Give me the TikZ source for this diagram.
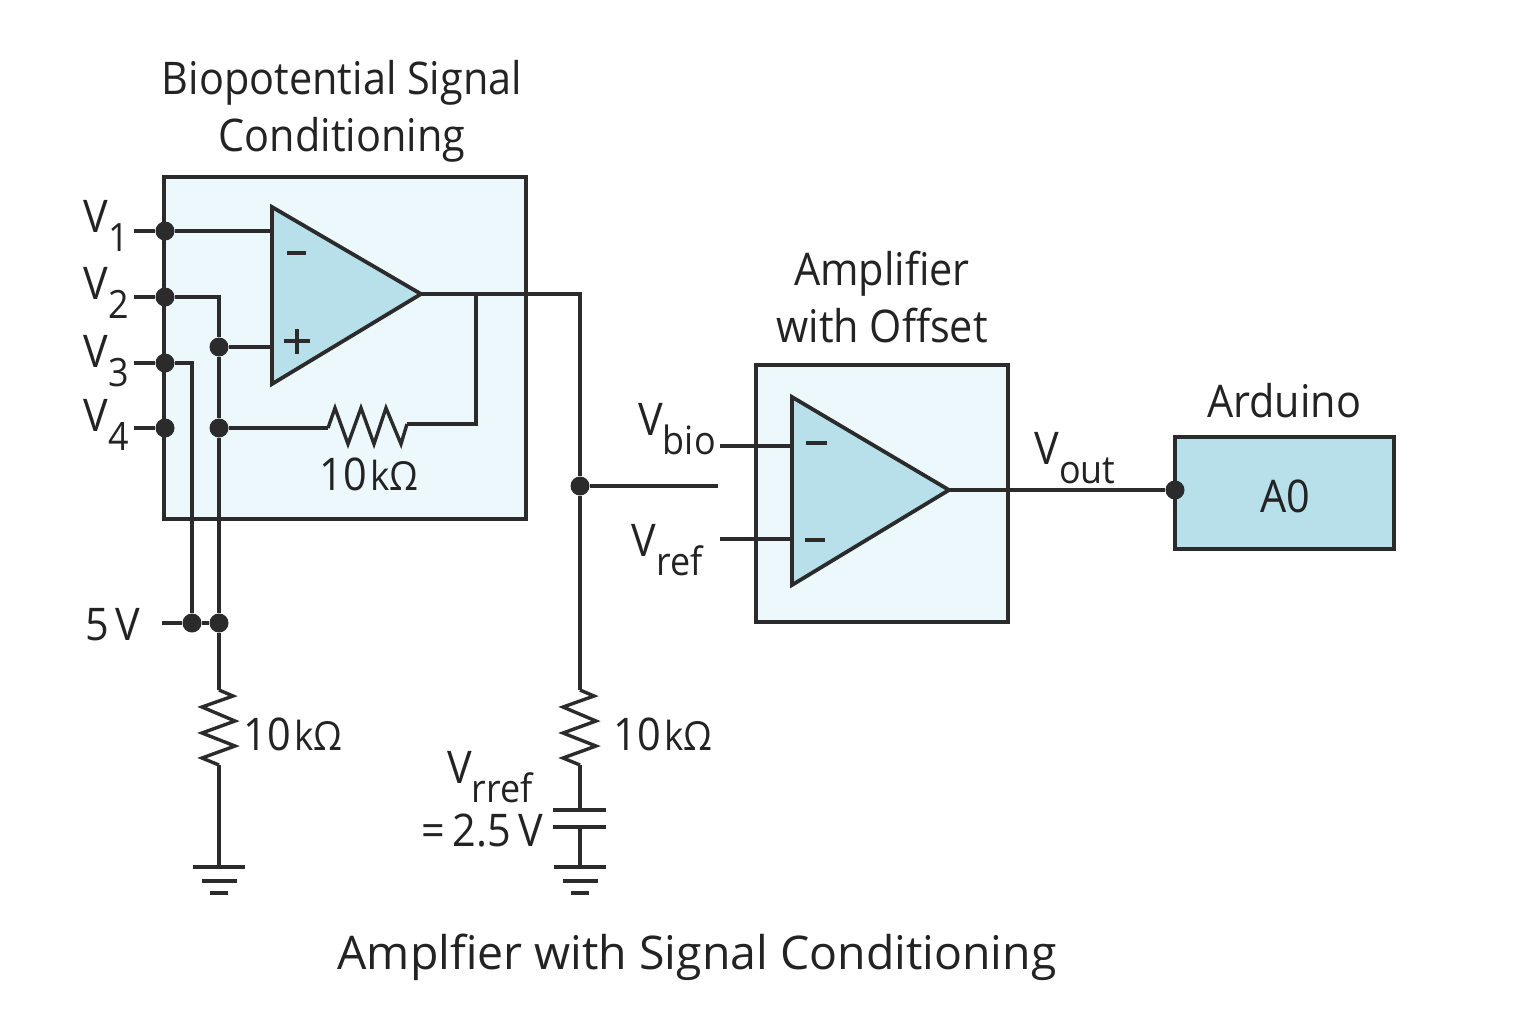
\documentclass[tikz,border=0pt]{standalone}
\usepackage{fontspec}
\setmainfont[FakeStretch=0.92]{Open Sans}
\newfontfamily\captionfont{Open Sans}
\usepackage{xcolor}
\usetikzlibrary{positioning}
\definecolor{wirecol}{RGB}{43,43,43}
\definecolor{boxfill}{RGB}{237,248,252}
\definecolor{ampfill}{RGB}{184,224,235}
\definecolor{textcol}{RGB}{35,35,35}
\newcommand{\vsub}[1]{V\raisebox{-0.42em}{\fontsize{19.5}{19.5}\selectfont #1}}
\newcommand{\kohm}{10\kern1.6pt{\fontsize{20}{20}\selectfont kΩ}}

\begin{document}
\begin{tikzpicture}[x=0.5pt, y=-0.5pt, line join=miter]
    % Define styles
    \tikzset{
        wire/.style={draw=wirecol, line width=1.7pt},
        block/.style={draw=wirecol, line width=1.9pt, fill=boxfill},
        amp/.style={draw=wirecol, line width=1.9pt, fill=ampfill},
        dot/.style={circle, fill=wirecol, inner sep=0pt, minimum size=9.5pt},
        lbl/.style={text=textcol, inner sep=0pt, font=\fontsize{22.5}{28.5}\selectfont, align=center},
        sym/.style={text=textcol, inner sep=0pt, font=\fontsize{22.5}{22.5}\selectfont},
        vres/.pic={\draw[wire] (0,0) -- (14,6) -- (-17,17) -- (16,31) -- (-17,43) -- (16,56) -- (-17,68) -- (0,75);},
        gnd/.pic={\draw[wire] (-26,0) -- (26,0) (-17,14) -- (18,14) (-9,26) -- (9,26);}
    }
    \useasboundingbox (0,0) rectangle (1536,1024);

    % Blocks
    \draw[block] (164,177) rectangle (526,519);
    \draw[block] (756,365) rectangle (1008,622);
    \draw[block, fill=ampfill] (1175,437) rectangle (1394,549);

    % Junctions
    \node[dot] (jv1) at (165,231) {};
    \node[dot] (jv2) at (165,297) {};
    \node[dot] (jv3) at (165,363) {};
    \node[dot] (jv4) at (165,428) {};
    \node[dot] (jplus) at (219,347) {};
    \node[dot] (jfb) at (219,428) {};
    \node[dot] (jbusa) at (192,623) {};
    \node[dot] (jbusb) at (219,623) {};
    \node[dot] (jbio) at (580,486) {};
    \node[dot] (ja0) at (1175,490) {};

    % Free ends and corners
    \coordinate (v1end) at (134,231);
    \coordinate (v2end) at (134,297);
    \coordinate (v3end) at (134,363);
    \coordinate (v4end) at (134,428);
    \coordinate (fiveend) at (162,623);
    \coordinate (inm) at (272,231);
    \coordinate (inp) at (272,347);
    \coordinate (outa) at (421,294);
    \coordinate (fbtop) at (476,294);
    \coordinate (fbr) at (476,424);
    \coordinate (fbl) at (407,424);
    \coordinate (rfba) at (328,428);
    \coordinate (cornera) at (219,297);
    \coordinate (cornerb) at (192,363);
    \coordinate (cornerc) at (580,294);
    \coordinate (ronea) at (219,690);
    \coordinate (roneb) at (219,765);
    \coordinate (gone) at (219,867);
    \coordinate (rtwoa) at (580,690);
    \coordinate (rtwob) at (580,765);
    \coordinate (capa) at (580,810);
    \coordinate (capb) at (580,827);
    \coordinate (gtwo) at (580,867);
    \coordinate (bioend) at (718,486);
    \coordinate (bstuba) at (720,446);
    \coordinate (bina) at (792,446);
    \coordinate (bstubb) at (720,539);
    \coordinate (binb) at (792,539);
    \coordinate (outb) at (949,490);

    % Wires
    \draw[wire] (v1end) -- (jv1) -- (inm);
    \draw[wire] (v2end) -- (jv2) -- (cornera) -- (jplus) -- (jfb) -- (jbusb) -- (ronea);
    \draw[wire] (jplus) -- (inp);
    \draw[wire] (v3end) -- (jv3) -- (cornerb) -- (jbusa);
    \draw[wire] (v4end) -- (jv4);
    \draw[wire] (fiveend) -- (jbusa) -- (jbusb);
    \draw[wire] (outa) -- (cornerc) -- (jbio) -- (rtwoa);
    \draw[wire] (fbtop) -- (fbr) -- (fbl);
    \draw[wire] (jfb) -- (rfba);
    \draw[wire] (roneb) -- (gone);
    \draw[wire] (rtwob) -- (capa);
    \draw[wire] (capb) -- (gtwo);
    \draw[wire] (jbio) -- (bioend);
    \draw[wire] (bstuba) -- (bina);
    \draw[wire] (bstubb) -- (binb);
    \draw[wire] (outb) -- (ja0);

    % Amplifiers
    \draw[amp] (272,207) -- (421,294) -- (272,384) -- cycle;
    \draw[amp] (792,397) -- (949,490) -- (792,585) -- cycle;
    \draw[wire] (287,253) -- (306,253) (284,341) -- (310,341) (297,329) -- (297,354);
    \draw[wire] (806,443) -- (827,443) (805,540) -- (825,540);

    % Resistors, capacitor, grounds
    \draw[wire] (rfba) -- (335,408) -- (348,444) -- (361,408) -- (374,444) -- (386,408) -- (401,444) -- (fbl);
    \pic at (ronea) {vres};
    \pic at (rtwoa) {vres};
    \draw[wire] (553,810) -- (606,810) (553,827) -- (606,827);
    \pic at (gone) {gnd};
    \pic at (gtwo) {gnd};

    % Labels
    \node[lbl] (titlea) at (342,111) {Biopotential Signal\\Conditioning};
    \node[lbl] (titleb) at (882,297) {Amplifier\\with Offset};
    \node[lbl] (titlec) at (1284,401) {Arduino};
    \node[lbl] (pina) at (1285,496) {A0};
    \node[lbl, font=\captionfont\fontsize{23.2}{28.5}\selectfont] (caption) at (697,957) {Amplfier with Signal Conditioning};
    \node[sym] (lv1) at (106,226) {\vsub{1}};
    \node[sym] (lv2) at (106,293) {\vsub{2}};
    \node[sym] (lv3) at (106,361) {\vsub{3}};
    \node[sym] (lv4) at (106,425) {\vsub{4}};
    \node[sym] (lfive) at (113,625) {5\kern3pt V};
    \node[sym] (lrfb) at (369,474) {\kohm};
    \node[sym] (lrone) at (293,734) {\kohm};
    \node[sym] (lrtwo) at (663,734) {\kohm};
    \node[sym] (lrref) at (490,777) {\vsub{rref}};
    \node[sym] (lval) at (482,831) {=\,2.5\,V};
    \node[sym] (lbio) at (677,429) {\vsub{bio}};
    \node[sym] (lref) at (667,550) {\vsub{ref}};
    \node[sym] (lout) at (1075,458) {\vsub{out}};
\end{tikzpicture}
\end{document}
